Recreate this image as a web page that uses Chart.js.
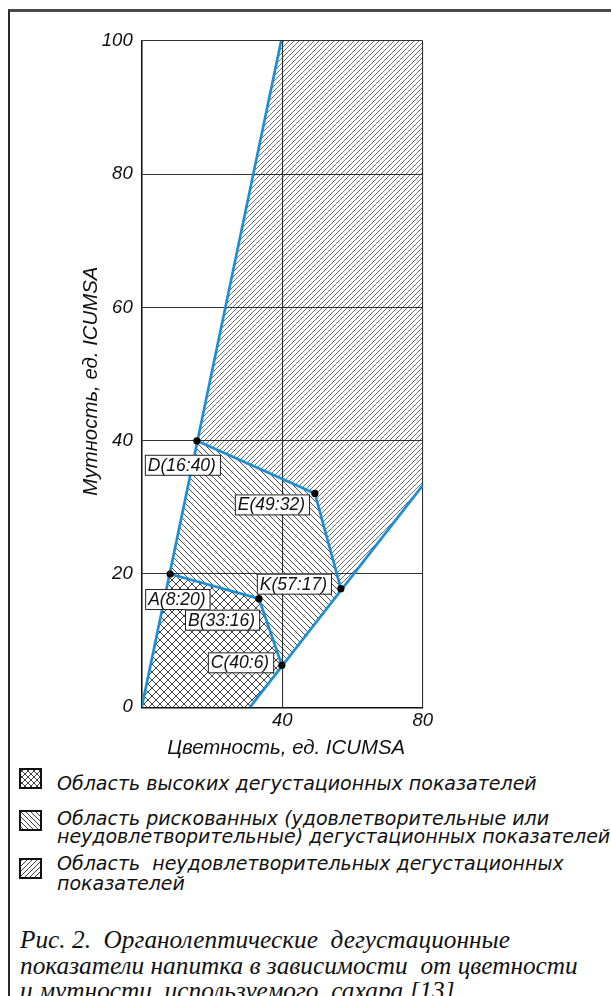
<!DOCTYPE html>
<html>
<head>
<meta charset="utf-8">
<script src="https://cdn.jsdelivr.net/npm/chart.js@4.4.0/dist/chart.umd.min.js"></script>
<style>
    body { margin: 0; width: 611px; height: 996px; overflow: hidden; background: #fff; position: relative; }
    #frame { position: absolute; left: 8px; top: 9px; right: -5px; bottom: -5px; border-top: 3px solid #4a4a4a; border-left: 2px solid #2a2a2a; }
    #chartBox { position: absolute; left: 0; top: 0; }
    .legend-item { position: absolute; left: 0; white-space: nowrap; }
    .legend-item canvas { position: absolute; left: 19px; top: 0; }
    .legend-text { position: absolute; left: 57px; font: italic 19px 'DejaVu Sans', sans-serif; line-height: 18px; color: #111; }
    #caption { position: absolute; left: 20px; top: 927px; font: italic 25.3px 'Liberation Serif', serif; line-height: 25.5px; color: #111; white-space: nowrap; }
</style>
</head>
<body>
<div id="frame"></div>
<div id="chartBox"><canvas id="diagram" width="611" height="760"></canvas></div>

<div class="legend-item" style="top:768px"><canvas id="sw-high" width="23" height="21"></canvas>
    <div class="legend-text" style="top:6px">Область высоких дегустационных показателей</div></div>
<div class="legend-item" style="top:810px"><canvas id="sw-risk" width="23" height="21"></canvas>
    <div class="legend-text" style="top:-1px">Область рискованных (удовлетворительные или<br>неудовлетворительные) дегустационных показателей</div></div>
<div class="legend-item" style="top:858px"><canvas id="sw-bad" width="23" height="21"></canvas>
    <div class="legend-text" style="top:-4px;line-height:19.5px">Область&nbsp; неудовлетворительных дегустационных<br>показателей</div></div>

<div id="caption">Рис. 2.&nbsp; Органолептические&nbsp; дегустационные<br>показатели напитка в зависимости&nbsp; от цветности<br>и мутности&nbsp; используемого&nbsp; сахара [13]</div>

<script>
// Characteristic points (x - цветность, y - мутность)
const pointNames = ['A', 'B', 'C', 'D', 'E', 'K'];
const pointLabels = ['A(8:20)', 'B(33:16)', 'C(40:6)', 'D(16:40)', 'E(49:32)', 'K(57:17)'];
const pointColour = [8.1, 33.4, 39.9, 15.7, 49.3, 56.7];
const pointTurbidity = [20, 16.3, 6.3, 40, 32.1, 17.8];

// Outer boundary lines
const leftEdgeX = [0, 39.7];
const leftEdgeY = [0, 100];
const rightEdgeX = [30.8, 80];
const rightEdgeY = [0, 33.3];

// Region outlines (point names or boundary corners)
const highRegion = ['O', 'A', 'B', 'C', 'R0'];
const riskRegion = ['A', 'D', 'E', 'K', 'C', 'B'];
const badRegion = ['D', 'L1', 'TR', 'R1', 'K', 'E'];

const xTicks = [40, 80];
const yTicks = [0, 20, 40, 60, 80, 100];

// label box placement relative to its point (px)
const labelOffsets = { A: [-25, 15], B: [-74, 11], C: [-74, -13], D: [-52, 14], E: [-80, 1], K: [-84, -15] };

const BLUE = '#1d8ed4';

function corner(name) {
    const i = pointNames.indexOf(name);
    if (i >= 0) return { x: pointColour[i], y: pointTurbidity[i] };
    if (name === 'O') return { x: leftEdgeX[0], y: leftEdgeY[0] };
    if (name === 'L1') return { x: leftEdgeX[1], y: leftEdgeY[1] };
    if (name === 'R0') return { x: rightEdgeX[0], y: rightEdgeY[0] };
    if (name === 'R1') return { x: rightEdgeX[1], y: rightEdgeY[1] };
    if (name === 'TR') return { x: xTicks[xTicks.length - 1], y: yTicks[yTicks.length - 1] };
}

function polygon(names) {
    const pts = names.map(corner);
    pts.push(pts[0]);
    return pts;
}

function makeHatch(kind, s, lw) {
    const c = document.createElement('canvas');
    c.width = s; c.height = s;
    const g = c.getContext('2d');
    g.strokeStyle = '#111';
    g.lineWidth = lw;
    g.beginPath();
    if (kind === '/' || kind === 'x') {
        g.moveTo(0, s); g.lineTo(s, 0);
        g.moveTo(-1, 1); g.lineTo(1, -1);
        g.moveTo(s - 1, s + 1); g.lineTo(s + 1, s - 1);
    }
    if (kind === '\\' || kind === 'x') {
        g.moveTo(0, 0); g.lineTo(s, s);
        g.moveTo(-1, s - 1); g.lineTo(1, s + 1);
        g.moveTo(s - 1, -1); g.lineTo(s + 1, 1);
    }
    g.stroke();
    return g.createPattern(c, 'repeat');
}

const patHigh = makeHatch('x', 8, 0.8);
const patRisk = makeHatch('\\', 6, 0.75);
const patBad = makeHatch('/', 5, 0.6);

function swatch(id, pat) {
    const c = document.getElementById(id);
    const g = c.getContext('2d');
    g.fillStyle = '#fff';
    g.fillRect(0, 0, c.width, c.height);
    g.fillStyle = pat;
    g.fillRect(0, 0, c.width, c.height);
    g.strokeStyle = '#111';
    g.lineWidth = 2;
    g.strokeRect(1, 1, c.width - 2, c.height - 2);
}
swatch('sw-high', makeHatch('x', 6, 0.8));
swatch('sw-risk', makeHatch('\\', 5, 0.8));
swatch('sw-bad', makeHatch('/', 5, 0.8));

function regionSet(names, pat) {
    return { data: polygon(names), fill: 'shape', backgroundColor: pat, borderWidth: 0, pointRadius: 0, order: 3 };
}

function blueLine(pts) {
    return { data: pts, borderColor: BLUE, borderWidth: 2.7, pointRadius: 0, fill: false, order: 2 };
}

const labelPlugin = {
    id: 'labels',
    afterDatasetsDraw(chart) {
        const ctx = chart.ctx;
        const xs = chart.scales.x, ys = chart.scales.y;
        ctx.save();
        ctx.font = 'italic 17.5px "Liberation Sans", Arial, sans-serif';
        ctx.textBaseline = 'middle';
        pointNames.forEach((n, i) => {
            const px = xs.getPixelForValue(pointColour[i]);
            const py = ys.getPixelForValue(pointTurbidity[i]);
            const off = labelOffsets[n];
            const w = ctx.measureText(pointLabels[i]).width + 7;
            const h = 20;
            const bx = px + off[0], by = py + off[1];
            ctx.fillStyle = '#fff';
            ctx.fillRect(bx, by, w, h);
            ctx.strokeStyle = '#222';
            ctx.lineWidth = 1;
            ctx.strokeRect(bx + 0.5, by + 0.5, w, h);
            ctx.fillStyle = '#111';
            ctx.fillText(pointLabels[i], bx + 3, by + h / 2 + 1);
        });
        // dots on top of the labels
        ctx.fillStyle = '#000';
        pointNames.forEach((n, i) => {
            ctx.beginPath();
            ctx.arc(xs.getPixelForValue(pointColour[i]), ys.getPixelForValue(pointTurbidity[i]), 3.6, 0, Math.PI * 2);
            ctx.fill();
        });
        // axis titles
        const a = chart.chartArea;
        ctx.font = 'italic 20.4px "Liberation Sans", Arial, sans-serif';
        ctx.textAlign = 'center';
        ctx.fillStyle = '#111';
        ctx.fillText('Цветность, ед. ICUMSA', (a.left + a.right) / 2 + 4, a.bottom + 41);
        ctx.translate(a.left - 50, (a.top + a.bottom) / 2 + 7);
        ctx.rotate(-Math.PI / 2);
        ctx.fillText('Мутность, ед. ICUMSA', 0, 0);
        ctx.restore();
    }
};

new Chart(document.getElementById('diagram'), {
    type: 'line',
    data: {
        datasets: [
            regionSet(highRegion, patHigh),
            regionSet(riskRegion, patRisk),
            regionSet(badRegion, patBad),
            blueLine(leftEdgeX.map((x, i) => ({ x: x, y: leftEdgeY[i] }))),
            blueLine(rightEdgeX.map((x, i) => ({ x: x, y: rightEdgeY[i] }))),
            blueLine(['A', 'B', 'C'].map(corner)),
            blueLine(['D', 'E', 'K'].map(corner))
        ]
    },
    options: {
        responsive: false,
        animation: false,
        layout: { padding: { left: 0, right: 188.3, top: 41, bottom: 0 } },
        plugins: { legend: { display: false }, tooltip: { enabled: false } },
        scales: {
            x: {
                type: 'linear', min: 0, max: 80,
                afterBuildTicks: s => { s.ticks = [0].concat(xTicks).map(v => ({ value: v })); },
                afterFit: s => { s.height = 52.7; },
                grid: { color: '#333', lineWidth: 1.1, drawTicks: false },
                border: { color: '#111', width: 1.5 },
                ticks: {
                    padding: 2,
                    color: '#111',
                    font: { family: '"Liberation Sans", Arial, sans-serif', size: 18.5, style: 'italic' },
                    callback: v => (v === 0 ? '' : v)
                }
            },
            y: {
                type: 'linear', min: 0, max: 100,
                afterBuildTicks: s => { s.ticks = yTicks.map(v => ({ value: v })); },
                afterFit: s => { s.width = 141.7; },
                grid: { color: '#333', lineWidth: 1.1, drawTicks: false },
                border: { color: '#111', width: 1.5 },
                ticks: {
                    padding: 9,
                    color: '#111',
                    font: { family: '"Liberation Sans", Arial, sans-serif', size: 18.5, style: 'italic' }
                }
            }
        }
    },
    plugins: [labelPlugin]
});
</script>
</body>
</html>
